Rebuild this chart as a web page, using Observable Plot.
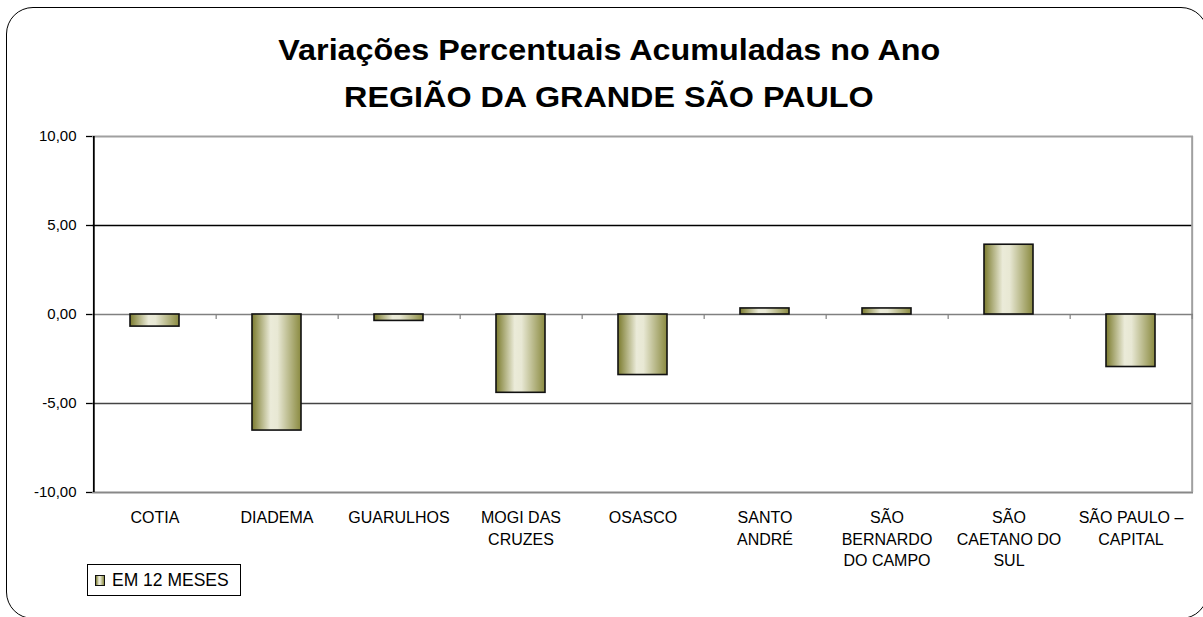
<!DOCTYPE html>
<html>
<head>
<meta charset="utf-8">
<script src="https://cdn.jsdelivr.net/npm/d3@7"></script>
<script src="https://cdn.jsdelivr.net/npm/@observablehq/plot@0.6"></script>
<style>
  html, body { margin: 0; padding: 0; background: #fff; }
  body { font-family: "Liberation Sans", Arial, sans-serif; color: #000; }
  #wrap { position: relative; width: 1203px; height: 617px; overflow: hidden; background: #fff; }
  #frame { position: absolute; left: 6px; top: 7px; width: 1202px; height: 612px; box-sizing: border-box;
           border: 1.5px solid #000; border-radius: 27px; }
  #title { position: absolute; left: 0; top: 27px; width: 1218px; text-align: center;
           font-weight: bold; font-size: 30px; line-height: 46.6px; }
  #title span { display: inline-block; transform: scaleX(1.077); transform-origin: center; white-space: nowrap; }
  #chart { position: absolute; left: 0; top: 118px; }
  #legend { position: absolute; left: 87px; top: 564px; width: 154px; height: 32px; box-sizing: border-box;
            border: 1px solid #000; background: #fff; }
  #legend .sw { position: absolute; left: 7px; top: 10px; width: 10px; height: 11px; box-sizing: border-box;
                border: 1.5px solid #111; background: linear-gradient(to right, #7b7b2e 0%, #ebebd9 38%, #e8e8d4 52%, #8a8a40 100%); }
  #legend .tx { position: absolute; left: 24px; top: 5px; font-size: 17.5px; line-height: 20px; white-space: pre; }
</style>
</head>
<body>
<div id="wrap">
  <div id="frame"></div>
  <div id="title"></div>
  <div id="chart"></div>
  <div id="legend"><div class="sw"></div><div class="tx"></div></div>
</div>
<script>
// ---- data ----
const titleLines = ["Variações Percentuais Acumuladas no Ano", "REGIÃO DA GRANDE SÃO PAULO"];
const categories = ["COTIA", "DIADEMA", "GUARULHOS", "MOGI DAS CRUZES", "OSASCO", "SANTO ANDRÉ",
  "SÃO BERNARDO DO CAMPO", "SÃO CAETANO DO SUL", "SÃO PAULO – CAPITAL"];
const tickLabels = ["COTIA", "DIADEMA", "GUARULHOS", "MOGI DAS\nCRUZES", "OSASCO", "SANTO\nANDRÉ",
  "SÃO\nBERNARDO\nDO CAMPO", "SÃO\nCAETANO DO\nSUL", "SÃO PAULO –\nCAPITAL"];
const values12m = [-0.68, -6.52, -0.36, -4.40, -3.40, 0.34, 0.34, 3.92, -2.95];
const yTicks = [-10, -5, 0, 5, 10];
const seriesName = "EM 12 MESES";

// ---- layout ----
const W = 1203, H = 446, ML = 92, MR = 10, MT = 18, MB = 72;
const step = (W - ML - MR) / categories.length;
const data = categories.map((c, i) => ({city: c, value: values12m[i]}));
const labelOf = new Map(categories.map((c, i) => [c, tickLabels[i]]));
const fmt = d => d.toFixed(2).replace(".", ",");

document.getElementById("title").innerHTML = titleLines.map(t => `<span>${t}</span>`).join("<br>");
document.querySelector("#legend .tx").textContent = seriesName;

const last = categories[categories.length - 1];
const plot = Plot.plot({
  width: W, height: H, marginTop: MT, marginBottom: MB, marginLeft: ML, marginRight: MR,
  style: {fontFamily: "'Liberation Sans', Arial, sans-serif", color: "#000", background: "transparent", overflow: "visible"},
  x: {type: "band", domain: categories, paddingInner: 0.6, paddingOuter: 0.3, axis: null},
  y: {domain: [-10, 10], axis: null},
  marks: [
    Plot.ruleY([10], {stroke: "#a0a0a0", strokeWidth: 2}),
    Plot.ruleY([5], {stroke: "#000", strokeWidth: 1.3}),
    Plot.ruleY([-5], {stroke: "#444", strokeWidth: 1.3}),
    Plot.ruleY([-10], {stroke: "#888", strokeWidth: 2}),
    Plot.ruleX([last], {y1: -10, y2: 10, dx: step / 2, stroke: "#a0a0a0", strokeWidth: 2}),
    Plot.ruleY([0], {stroke: "#808080", strokeWidth: 1.5}),
    Plot.ruleX(categories, {y1: 0, y2: 0, insetBottom: -5, dx: step / 2, stroke: "#808080", strokeWidth: 1.2}),
    Plot.barY(data, {x: "city", y: "value", fill: "url(#oliveGrad)", stroke: "#111", strokeWidth: 1.6}),
    Plot.ruleX([categories[0]], {y1: -10, y2: 10, dx: -step / 2, stroke: "#000", strokeWidth: 1.8}),
    Plot.axisY({ticks: yTicks, tickFormat: fmt, tickSize: 6, tickPadding: 10, fontSize: 15, label: null, stroke: "#000", strokeWidth: 1.3}),
    Plot.axisX({tickSize: 0, tickPadding: 15, fontSize: 16, lineHeight: 1.36, tickFormat: d => labelOf.get(d), label: null})
  ]
});

const defs = d3.select(plot).insert("defs", ":first-child");
const g = defs.append("linearGradient").attr("id", "oliveGrad").attr("x1", 0).attr("x2", 1).attr("y1", 0).attr("y2", 0);
[[0, "#7b7b2e"], [0.38, "#ebebd9"], [0.52, "#e8e8d4"], [1, "#8a8a40"]].forEach(([o, c]) =>
  g.append("stop").attr("offset", o).attr("stop-color", c));

document.getElementById("chart").appendChild(plot);
</script>
</body>
</html>
